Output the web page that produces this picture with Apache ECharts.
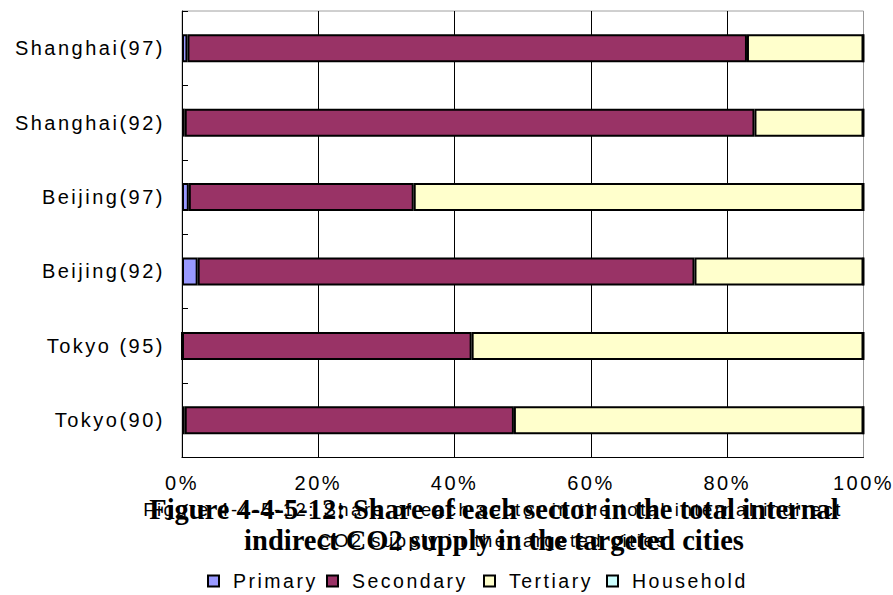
<!DOCTYPE html>
<html>
<head>
<meta charset="utf-8">
<script src="https://cdn.jsdelivr.net/npm/echarts@6/dist/echarts.min.js"></script>
<style>
  html, body { margin: 0; padding: 0; background: #fff; }
  #chart { width: 893px; height: 595px; }
  #chart text { letter-spacing: 2.5px; }
  #chart text[style*="Serif"], #chart text[font-family*="Serif"], #chart text[style*="bold"], #chart text[font-weight="bold"] { letter-spacing: 0px !important; }
</style>
</head>
<body>
<div id="chart"></div>
<script>
const categories = ['Tokyo(90)', 'Tokyo (95)', 'Beijing(92)', 'Beijing(97)', 'Shanghai(92)', 'Shanghai(97)'];
const primary   = [0.4, 0.0, 2.3, 1.0, 0.4, 0.8];
const secondary = [48.3, 42.5, 72.9, 33.0, 83.6, 82.1];
const tertiary  = [51.3, 57.5, 24.8, 66.0, 16.0, 17.1];
const household = [0, 0, 0, 0, 0, 0];
const seriesNames = ['Primary', 'Secondary', 'Tertiary', 'Household'];
const xTicks = [0, 20, 40, 60, 80, 100];
const titleLines = ['Figure 4-4-5-12: Share of each sector in the total internal', 'indirect CO2 supply in the targeted cities'];
const titleSansLines = ['Figure 4-4-5-12: Share of each sector in the total internal indirect', 'CO2 supply in the targeted cities'];

const colors = ['#9999FF', '#993366', '#FFFFCC', '#CCFFFF'];
const values = [primary, secondary, tertiary, household];

const chart = echarts.init(document.getElementById('chart'), null, { renderer: 'svg' });

const legendLefts = [207, 326, 483, 606];

const option = {
  backgroundColor: '#fff',
  animation: false,
  title: [
    {
      text: titleSansLines.join('\n'),
      left: 493, top: 494, textAlign: 'center', padding: 0,
      textStyle: { fontFamily: 'Liberation Sans', fontWeight: 'normal', fontSize: 18.5, lineHeight: 31, color: '#000' }
    },
    {
      text: titleLines.join('\n'),
      left: 494, top: 494, textAlign: 'center', padding: 0,
      textStyle: { fontFamily: 'Liberation Serif', fontWeight: 'bold', fontSize: 28.5, lineHeight: 31, color: '#000' }
    }
  ],
  legend: seriesNames.map((n, i) => ({
    data: [n],
    left: legendLefts[i],
    top: 571,
    orient: 'horizontal',
    icon: 'rect',
    itemWidth: 11,
    itemHeight: 11,
    selectedMode: false,
    padding: 0,
    textStyle: { fontFamily: 'Liberation Sans', fontSize: 19.5, color: '#000', padding: [0, 0, 0, 9] }
  })),
  grid: {
    left: 182, right: 29.5, top: 11, bottom: 137.5,
    show: true, borderColor: '#a0a0a0', borderWidth: 1, backgroundColor: 'transparent'
  },
  xAxis: {
    type: 'value',
    min: 0, max: 100, interval: 20,
    axisLine: { show: true, lineStyle: { color: '#000', width: 1 } },
    axisTick: { show: false },
    axisLabel: {
      formatter: '{value}%', fontFamily: 'Liberation Sans', fontSize: 20, color: '#000', margin: 15
    },
    splitLine: { show: true, lineStyle: { color: ['#000', '#000', '#000', '#000', '#000', '#999'], width: 1 } }
  },
  yAxis: {
    type: 'category',
    data: categories,
    axisLine: { show: true, lineStyle: { color: '#000', width: 1 } },
    axisTick: { show: true, inside: true, length: 6, lineStyle: { color: '#000' } },
    axisLabel: { fontFamily: 'Liberation Sans', fontSize: 20, color: '#000', margin: 17 },
    splitLine: { show: false }
  },
  series: seriesNames.map((n, i) => ({
    name: n,
    type: 'bar',
    stack: 'total',
    barWidth: 28,
    data: values[i],
    itemStyle: { color: colors[i], borderColor: '#000', borderWidth: 2 },
    emphasis: { disabled: true }
  }))
};
chart.setOption(option);
</script>
</body>
</html>
